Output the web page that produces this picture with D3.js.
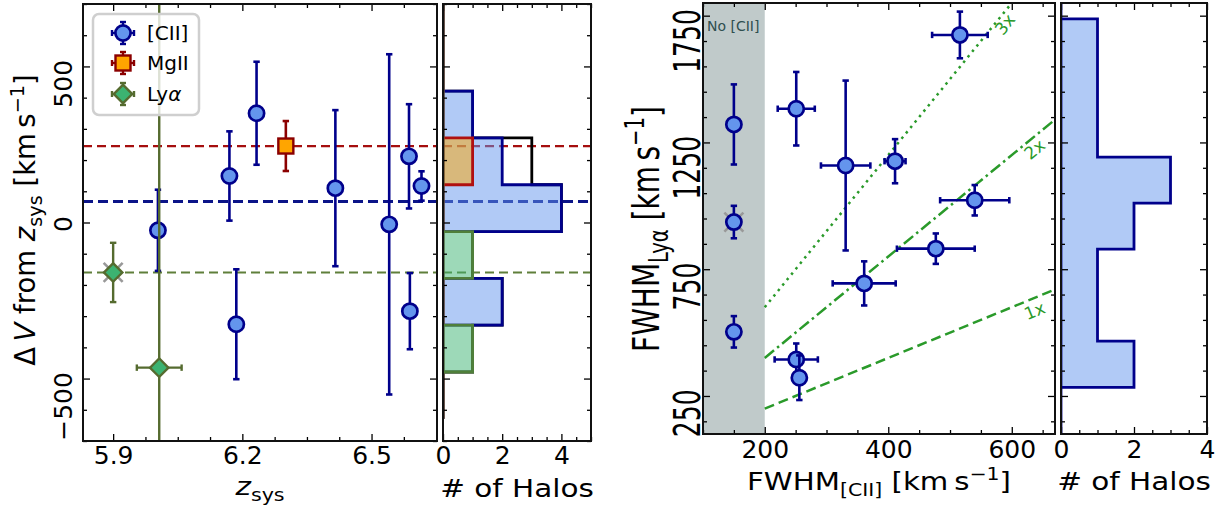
<!DOCTYPE html>
<html><head><meta charset="utf-8">
<script src="https://cdn.jsdelivr.net/npm/d3@7"></script>
<style>
body{margin:0;background:#fff}
svg{display:block}
text{font-family:"DejaVu Sans",sans-serif}
</style>
</head><body>
<svg id="c" width="1225" height="506"></svg>
<script>
// ---------------- DATA ----------------
// Left panel: velocity offset vs systemic redshift
const ciiZ      = [6.004, 6.170, 6.233, 6.416, 6.541, 6.587, 6.616, 6.186, 6.589];
const ciiDV     = [-25, 149, 350, 110, -6, 212, 117, -326, -284];
const ciiDVErr  = [130, 143, 165, 250, 545, 167, 47, 176, 122];

const mgZ       = [6.301];
const mgDV      = [245];
const mgDVErr   = [80];

const lyaZ      = [5.900, 6.007];
const lyaDV     = [-160, -465];
const lyaDVErr  = [95, 2000];
const lyaZErr   = [0, 0.052];
const lyaFlagged= [true, false];

const meanSeries = ["cii", "mg", "lya"];
const meanDV     = [67, 245, -160];

const dvBinEdges = [-629, -479, -329, -179, -29, 121, 271, 421, 571, 721];

const zTicks      = [5.9, 6.2, 6.5];
const zTickLabels = ["5.9", "6.2", "6.5"];
const dvTicks     = [-500, 0, 500];
const dvTickLabels= ["\u2212500", "0", "500"];
const countTicksL = [0, 2, 4];
const countTicksR = [0, 2, 4];

// Right panel: FWHM Lya vs FWHM [CII]
const fwhmCII     = [516, 251, 331, 411, 540, 477, 361, 251, 256];
const fwhmCIIErr  = [45, 30, 40, 17, 56, 63, 51, 35, 0];
const fwhmLya     = [1674, 1383, 1159, 1176, 1022, 831, 694, 394, 322];
const fwhmLyaErr  = [92, 145, 335, 87, 60, 60, 87, 63, 88];

const noCiiX        = 150;
const noCiiLimit    = 200;
const noCiiLya      = [1321, 936, 503];
const noCiiLyaErr   = [158, 64, 62];
const noCiiFlagged  = [false, true, false];

const ratioK      = [1, 2, 3];
const ratioLabels = ["1x", "2x", "3x"];

const fwhmLyaEdges = [102, 284, 466, 648, 829, 1011, 1192, 1374, 1555, 1737, 1919];

const fxTicks = [200, 400, 600];
const fxTickLabels = ["200", "400", "600"];
const fyTicks = [250, 750, 1250, 1750];
const fyTickLabels = ["250", "750", "1250", "1750"];

// ---------------- STYLE / LAYOUT ----------------
const C = {
  navy: "#00008B", blueFill: "#6495ED",
  dred: "#8B0000", orange: "#FFA500",
  olive: "#556B2F", green: "#3CB371",
  ratio: "#2a9a2a", gray: "#999999", slate: "#2F4F4F",
  meanCii: "#0b1488", meanMg: "#a50e0e", meanLya: "#5f7f3a"
};
const L  = {x0: 83,   x1: 437,  y0: 4, y1: 441};
const LH = {x0: 443,  x1: 591,  y0: 4, y1: 441};
const R  = {x0: 703,  x1: 1055, y0: 3, y1: 434};
const RH = {x0: 1061, x1: 1207, y0: 3, y1: 434};

const zScale  = d3.scaleLinear().domain([5.83, 6.652]).range([L.x0, L.x1]);
const dvScale = d3.scaleLinear().domain([-700, 700]).range([L.y1, L.y0]);
const lhX     = d3.scaleLinear().domain([0, 5]).range([LH.x0, LH.x1]);
const fX      = d3.scaleLinear().domain([100, 670]).range([R.x0, R.x1]);
const fY      = d3.scaleLinear().domain([100, 1800]).range([R.y1, R.y0]);
const rhX     = d3.scaleLinear().domain([0, 4]).range([RH.x0, RH.x1]);

const svg = d3.select("#c");
const defs = svg.append("defs");
function clip(id, p) {
  defs.append("clipPath").attr("id", id).append("rect")
    .attr("x", p.x0).attr("y", p.y0).attr("width", p.x1 - p.x0).attr("height", p.y1 - p.y0);
  return svg.append("g").attr("clip-path", `url(#${id})`);
}

// rich text helper
function rich(sel, parts, size) {
  let cur = 0;
  parts.forEach(([t, st]) => {
    st = st || "";
    let target = 0, fs = size;
    if (st.includes("sub")) { target = 0.24 * size; fs = 0.7 * size; }
    if (st.includes("sup")) { target = -0.40 * size; fs = 0.7 * size; }
    const ts = sel.append("tspan").text(t).attr("font-size", fs);
    if (target - cur !== 0) ts.attr("dy", target - cur);
    if (st.includes("i")) ts.attr("font-style", "italic");
    cur = target;
  });
  return sel;
}

// errorbar helper
function errbar(g, x, y, xlo, xhi, ylo, yhi, color, cap = 3.2, w = 2.6) {
  if (ylo !== yhi) {
    g.append("line").attr("x1", x).attr("x2", x).attr("y1", ylo).attr("y2", yhi)
      .attr("stroke", color).attr("stroke-width", w);
    [ylo, yhi].forEach(yy => g.append("line").attr("x1", x - cap).attr("x2", x + cap)
      .attr("y1", yy).attr("y2", yy).attr("stroke", color).attr("stroke-width", w));
  }
  if (xlo !== xhi) {
    g.append("line").attr("x1", xlo).attr("x2", xhi).attr("y1", y).attr("y2", y)
      .attr("stroke", color).attr("stroke-width", w);
    [xlo, xhi].forEach(xx => g.append("line").attr("x1", xx).attr("x2", xx)
      .attr("y1", y - cap).attr("y2", y + cap).attr("stroke", color).attr("stroke-width", w));
  }
}
function circle(g, x, y) {
  g.append("circle").attr("cx", x).attr("cy", y).attr("r", 7.6)
    .attr("fill", C.blueFill).attr("stroke", C.navy).attr("stroke-width", 2.7);
}
function square(g, x, y) {
  g.append("rect").attr("x", x - 7.5).attr("y", y - 7.5).attr("width", 15).attr("height", 15)
    .attr("fill", C.orange).attr("stroke", C.dred).attr("stroke-width", 2.4);
}
function diamond(g, x, y) {
  g.append("path").attr("d", d3.symbol(d3.symbolSquare, 170)())
    .attr("transform", `translate(${x},${y}) rotate(45)`)
    .attr("fill", C.green).attr("stroke", C.olive).attr("stroke-width", 2.4);
}
function xmark(g, x, y) {
  const s = 9.5;
  g.append("path").attr("d", `M${x - s},${y - s}L${x + s},${y + s}M${x - s},${y + s}L${x + s},${y - s}`)
    .attr("stroke", C.gray).attr("stroke-width", 2.6).attr("fill", "none");
}

// ---------------- FRAME + AXES ----------------
function frame(p, xs, ys, opt) {
  const g = svg.append("g").attr("class", "axes");
  const mk = (axisFn, scale, vals, size, fmt) => axisFn(scale).tickValues(vals).tickSize(size).tickFormat(fmt || "");
  const put = (axis, tx, ty) => {
    const a = g.append("g").attr("transform", `translate(${tx},${ty})`).call(axis);
    a.select(".domain").remove();
    a.selectAll("line").attr("stroke", "#000").attr("stroke-width", 1.3);
    return a;
  };
  const xMin = opt.xMinor.filter(v => v >= xs.domain()[0] && v <= xs.domain()[1]);
  const yMin = opt.yMinor.filter(v => v >= ys.domain()[0] && v <= ys.domain()[1]);
  put(mk(d3.axisBottom, xs, xMin, -4), 0, p.y1);
  put(mk(d3.axisTop, xs, xMin, -4), 0, p.y0);
  put(mk(d3.axisLeft, ys, yMin, -4), p.x0, 0);
  put(mk(d3.axisRight, ys, yMin, -4), p.x1, 0);
  const bx = put(mk(d3.axisBottom, xs, opt.xMajor, -7, (d, i) => opt.xLabels ? opt.xLabels[i] : ""), 0, p.y1);
  bx.selectAll("text").attr("y", opt.xLabelOff).attr("dy", null)
    .attr("font-size", 25).attr("fill", "#000").attr("font-family", '"DejaVu Sans",sans-serif');
  put(mk(d3.axisTop, xs, opt.xMajor, -7), 0, p.y0);
  const ly = put(mk(d3.axisLeft, ys, opt.yMajor, -7, (d, i) => opt.yLabels ? opt.yLabels[i] : ""), p.x0, 0);
  ly.selectAll("text").attr("x", null).attr("dy", null).attr("text-anchor", "end")
    .attr("font-size", 25).attr("fill", "#000").attr("font-family", '"DejaVu Sans",sans-serif')
    .attr("transform", opt.yLabelTf);
  put(mk(d3.axisRight, ys, opt.yMajor, -7), p.x1, 0);
  g.append("rect").attr("x", p.x0).attr("y", p.y0).attr("width", p.x1 - p.x0).attr("height", p.y1 - p.y0)
    .attr("fill", "none").attr("stroke", "#111").attr("stroke-width", 2);
}

// ---------------- LEFT MAIN PANEL ----------------
const gL = clip("clipL", L);
const meanColor = {cii: C.meanCii, mg: C.meanMg, lya: C.meanLya};
const meanStyle = {cii: [3, "10,5"], mg: [2.3, "9,5"], lya: [2.1, "9,5"]};
function meanLines(g, x0, x1) {
  meanSeries.forEach((s, i) => {
    g.append("line").attr("x1", x0).attr("x2", x1)
      .attr("y1", dvScale(meanDV[i])).attr("y2", dvScale(meanDV[i]))
      .attr("stroke", meanColor[s]).attr("stroke-width", meanStyle[s][0])
      .attr("stroke-dasharray", meanStyle[s][1]);
  });
}
meanLines(gL, L.x0, L.x1);

ciiZ.forEach((z, i) => {
  const x = zScale(z), y = dvScale(ciiDV[i]);
  errbar(gL, x, y, x, x, dvScale(ciiDV[i] - ciiDVErr[i]), dvScale(ciiDV[i] + ciiDVErr[i]), C.navy);
  circle(gL, x, y);
});
mgZ.forEach((z, i) => {
  const x = zScale(z), y = dvScale(mgDV[i]);
  errbar(gL, x, y, x, x, dvScale(mgDV[i] - mgDVErr[i]), dvScale(mgDV[i] + mgDVErr[i]), C.dred);
  square(gL, x, y);
});
lyaZ.forEach((z, i) => {
  const x = zScale(z), y = dvScale(lyaDV[i]);
  if (lyaFlagged[i]) xmark(gL, x, y);
  errbar(gL, x, y, zScale(z - lyaZErr[i]), zScale(z + lyaZErr[i]),
    dvScale(lyaDV[i] - lyaDVErr[i]), dvScale(lyaDV[i] + lyaDVErr[i]), C.olive, 3.2, 2.4);
  diamond(gL, x, y);
});

// legend
const lg = svg.append("g");
lg.append("rect").attr("x", 93).attr("y", 14).attr("width", 106).attr("height", 101).attr("rx", 6)
  .attr("fill", "#fff").attr("fill-opacity", 0.8).attr("stroke", "#cfcfcf").attr("stroke-width", 2.5);
const legRows = [
  {y: 33, col: C.navy, mk: circle, parts: [["[CII]"]]},
  {y: 63, col: C.dred, mk: square, parts: [["MgII"]]},
  {y: 94, col: C.olive, mk: diamond, parts: [["Ly"], ["\u03b1", "i"]]}
];
legRows.forEach(r => {
  errbar(lg, 123, r.y, 112, 134, r.y + 11, r.y - 11, r.col, 3, 2.4);
  r.mk(lg, 123, r.y);
  rich(lg.append("text").attr("x", 147).attr("y", r.y + 7).attr("fill", "#000"), r.parts, 20);
});

frame(L, zScale, dvScale, {
  xMajor: zTicks, xLabels: zTickLabels, xMinor: d3.range(5.825, 6.7, 0.075).filter(v => !zTicks.some(t => Math.abs(t - v) < 1e-6)),
  yMajor: dvTicks, yLabels: dvTickLabels, yMinor: d3.range(-700, 701, 100).filter(v => !dvTicks.includes(v)),
  xLabelOff: 23, yLabelTf: "translate(-11,-7) rotate(-90)"
});

// ---------------- LEFT HISTOGRAM ----------------
const gLH = clip("clipLH", LH);
meanLines(gLH, LH.x0, LH.x1);
const binner = d3.bin().domain([dvBinEdges[0], dvBinEdges[dvBinEdges.length - 1]]).thresholds(dvBinEdges.slice(1, -1));
function stepPath(bins, cx, ys) {
  const pts = [[cx(0), ys(bins[0].x0)]];
  bins.forEach(b => { pts.push([cx(b.length), ys(b.x0)]); pts.push([cx(b.length), ys(b.x1)]); });
  pts.push([cx(0), ys(bins[bins.length - 1].x1)]);
  return d3.line()(pts);
}
const binsCii = binner(ciiDV), binsMg = binner(mgDV), binsLya = binner(lyaDV);
const binsAll = binner(ciiDV.concat(mgDV, lyaDV));
gLH.append("path").attr("d", stepPath(binsAll, lhX, dvScale)).attr("fill", "none")
  .attr("stroke", "#000").attr("stroke-width", 2.8);
[[binsCii, C.blueFill, C.navy], [binsMg, C.orange, "#b01010"], [binsLya, C.green, "#4f7f3a"]].forEach(([b, f, s]) => {
  gLH.append("path").attr("d", stepPath(b, lhX, dvScale) + "Z")
    .attr("fill", f).attr("fill-opacity", 0.5).attr("stroke", s).attr("stroke-width", 2.8)
    .attr("stroke-linejoin", "miter");
});
frame(LH, lhX, dvScale, {
  xMajor: countTicksL, xLabels: countTicksL.map(String), xMinor: d3.range(0, 5.01, 0.5).filter(v => !countTicksL.includes(v)),
  yMajor: dvTicks, yLabels: null, yMinor: d3.range(-700, 701, 100).filter(v => !dvTicks.includes(v)),
  xLabelOff: 23, yLabelTf: null
});

// ---------------- RIGHT MAIN PANEL ----------------
const gR = clip("clipR", R);
gR.append("rect").attr("x", fX(100)).attr("y", R.y0).attr("width", fX(noCiiLimit) - fX(100)).attr("height", R.y1 - R.y0)
  .attr("fill", C.slate).attr("fill-opacity", 0.3);
gR.append("text").attr("x", fX(100) + 4).attr("y", 31).attr("font-size", 14).attr("fill", C.slate).text("No [CII]");

const ratioDash = {1: "10,5", 2: "12,4,2.5,4", 3: "2.5,4.5"};
ratioK.forEach((k, i) => {
  const xEnd = Math.min(fX.domain()[1], fY.domain()[1] / k);
  gR.append("line").attr("x1", fX(noCiiLimit)).attr("y1", fY(k * noCiiLimit))
    .attr("x2", fX(xEnd)).attr("y2", fY(k * xEnd))
    .attr("stroke", C.ratio).attr("stroke-width", 2.5).attr("stroke-dasharray", ratioDash[k]);
  const lx = k === 3 ? 589 : 637;
  const ang = Math.atan2(fY(k * noCiiLimit) - fY(k * lx), fX(lx) - fX(noCiiLimit)) * 180 / Math.PI;
  gR.append("text").attr("transform", `translate(${fX(lx)},${fY(k * lx) + 13}) rotate(${-ang})`)
    .attr("text-anchor", "middle").attr("dy", "0.35em").attr("font-size", 17).attr("fill", C.ratio)
    .text(ratioLabels[i]);
});

noCiiLya.forEach((v, i) => {
  const x = fX(noCiiX), y = fY(v);
  if (noCiiFlagged[i]) xmark(gR, x, y);
  errbar(gR, x, y, x, x, fY(v - noCiiLyaErr[i]), fY(v + noCiiLyaErr[i]), C.navy);
  circle(gR, x, y);
});
fwhmCII.forEach((c, i) => {
  const x = fX(c), y = fY(fwhmLya[i]);
  errbar(gR, x, y, fX(c - fwhmCIIErr[i]), fX(c + fwhmCIIErr[i]),
    fY(fwhmLya[i] - fwhmLyaErr[i]), fY(fwhmLya[i] + fwhmLyaErr[i]), C.navy);
  circle(gR, x, y);
});

frame(R, fX, fY, {
  xMajor: fxTicks, xLabels: fxTickLabels, xMinor: d3.range(100, 671, 50).filter(v => !fxTicks.includes(v)),
  yMajor: fyTicks, yLabels: fyTickLabels, yMinor: d3.range(150, 1800, 100).filter(v => !fyTicks.includes(v)),
  xLabelOff: 24, yLabelTf: "translate(-3,-7) rotate(-90) scale(1,1.5)"
});

// ---------------- RIGHT HISTOGRAM ----------------
const gRH = clip("clipRH", RH);
const binnerR = d3.bin().domain([fwhmLyaEdges[0], fwhmLyaEdges[fwhmLyaEdges.length - 1]]).thresholds(fwhmLyaEdges.slice(1, -1));
const binsR = binnerR(fwhmLya.concat(noCiiLya));
gRH.append("path").attr("d", stepPath(binsR, rhX, fY) + "Z")
  .attr("fill", C.blueFill).attr("fill-opacity", 0.5).attr("stroke", C.navy).attr("stroke-width", 2.8);
frame(RH, rhX, fY, {
  xMajor: countTicksR, xLabels: countTicksR.map(String), xMinor: d3.range(0, 4.01, 0.5).filter(v => !countTicksR.includes(v)),
  yMajor: fyTicks, yLabels: null, yMinor: d3.range(150, 1800, 100).filter(v => !fyTicks.includes(v)),
  xLabelOff: 24, yLabelTf: null
});

// ---------------- AXIS LABELS ----------------
rich(svg.append("text").attr("text-anchor", "middle").attr("transform", "translate(260,495) scale(1.18,1)"),
  [["z", "i"], ["sys", "sub"]], 25);
rich(svg.append("text").attr("text-anchor", "middle").attr("transform", "translate(517,497) scale(1.18,1)"),
  [["# of Halos"]], 25);
rich(svg.append("text").attr("text-anchor", "middle").attr("transform", "translate(879,490) scale(1.17,1)"),
  [["FWHM"], ["[CII]", "sub"], [" [km\u2009s"], ["\u22121", "sup"], ["]"]], 25);
rich(svg.append("text").attr("text-anchor", "middle").attr("transform", "translate(1134,490) scale(1.18,1)"),
  [["# of Halos"]], 25);
rich(svg.append("text").attr("text-anchor", "middle").attr("transform", "translate(35,220) rotate(-90)"),
  [["\u0394\u2009"], ["V", "i"], [" from "], ["z", "i"], ["sys", "sub"], [" [km\u2009s"], ["\u22121", "sup"], ["]"]], 27.5);
rich(svg.append("text").attr("text-anchor", "middle").attr("transform", "translate(659,229) rotate(-90) scale(1,1.32)"),
  [["FWHM"], ["Ly\u03b1", "sub"], [" [km\u2009s"], ["\u22121", "sup"], ["]"]], 28);
</script>
</body></html>
